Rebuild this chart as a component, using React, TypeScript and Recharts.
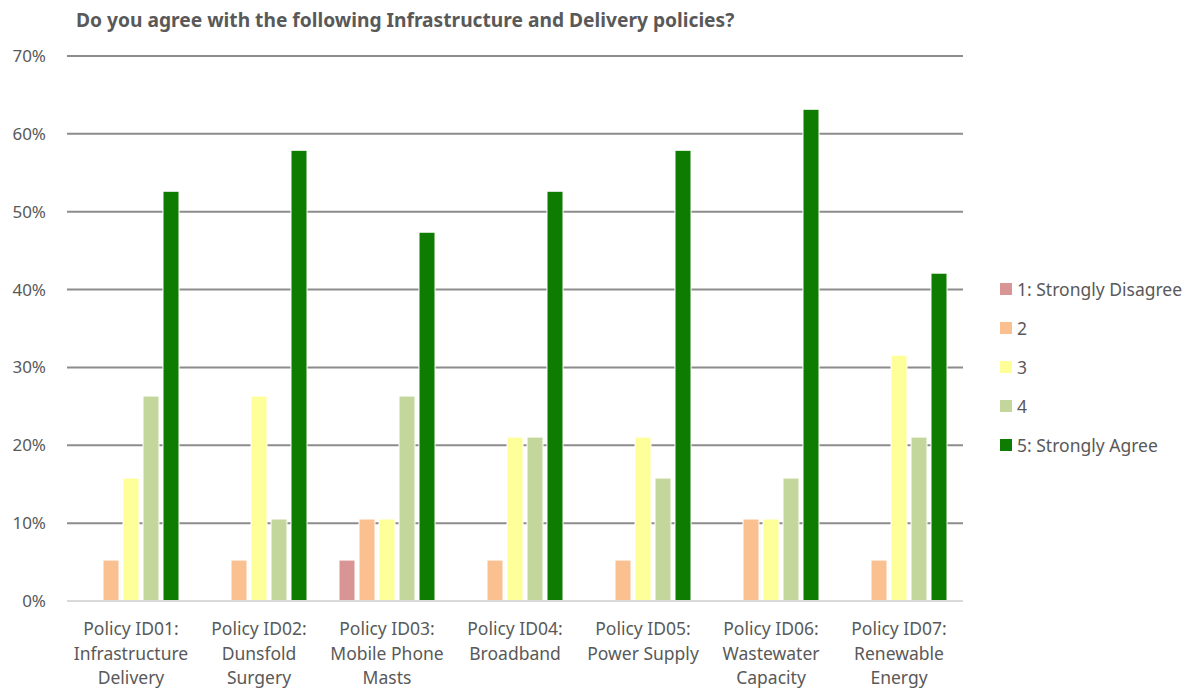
import { BarChart, Bar, XAxis, YAxis, CartesianGrid } from 'recharts';

const policies = [
  'Policy ID01:|Infrastructure|Delivery',
  'Policy ID02:|Dunsfold|Surgery',
  'Policy ID03:|Mobile Phone|Masts',
  'Policy ID04:|Broadband',
  'Policy ID05:|Power Supply',
  'Policy ID06:|Wastewater|Capacity',
  'Policy ID07:|Renewable|Energy',
];

const stronglyDisagree = [0, 0, 5.26, 0, 0, 0, 0];
const disagree = [5.26, 5.26, 10.53, 5.26, 5.26, 10.53, 5.26];
const neutral = [15.79, 26.32, 10.53, 21.05, 21.05, 10.53, 31.58];
const agree = [26.32, 10.53, 26.32, 21.05, 15.79, 15.79, 21.05];
const stronglyAgree = [52.63, 57.89, 47.37, 52.63, 57.89, 63.16, 42.11];

const yTicks = [0, 10, 20, 30, 40, 50, 60, 70];

const series = [
  { key: 's1', name: '1: Strongly Disagree', color: '#d99594', values: stronglyDisagree },
  { key: 's2', name: '2', color: '#fac090', values: disagree },
  { key: 's3', name: '3', color: '#ffff99', values: neutral },
  { key: 's4', name: '4', color: '#c3d69b', values: agree },
  { key: 's5', name: '5: Strongly Agree', color: '#0e7c00', values: stronglyAgree },
];

const data = policies.map((p, i) => {
  const row: Record<string, string | number> = { policy: p };
  series.forEach((s) => (row[s.key] = s.values[i]));
  return row;
});

const FONT = '"Noto Sans", sans-serif';
const TEXT = '#595959';

const PolicyTick = (props: any) => {
  const { x, y, payload } = props;
  const lines = String(payload.value).split('|');
  return (
    <g transform={`translate(${x},${y})`}>
      {lines.map((l, i) => (
        <text key={i} x={0} y={26 + i * 24.5} textAnchor="middle" fill={TEXT} fontSize={17.5} fontFamily={FONT}>
          {l}
        </text>
      ))}
    </g>
  );
};

export default function App() {
  return (
    <div style={{ position: 'absolute', left: 0, top: 0, width: 1195, height: 691, background: '#fff' }}>
      <div
        style={{
          position: 'absolute',
          left: 76,
          top: 6,
          fontFamily: FONT,
          fontWeight: 'bold',
          fontSize: 19.2,
          color: TEXT,
          whiteSpace: 'nowrap',
        }}
      >
        Do you agree with the following Infrastructure and Delivery policies?
      </div>
      <div
        style={{
          position: 'absolute',
          left: 1000,
          top: 269,
          fontFamily: FONT,
          fontSize: 17.5,
          color: TEXT,
          whiteSpace: 'nowrap',
        }}
      >
        {series.map((s) => (
          <div key={s.key} style={{ display: 'flex', alignItems: 'center', height: 39 }}>
            <span style={{ width: 12, height: 12, background: s.color, marginRight: 5, display: 'inline-block' }} />
            <span>{s.name}</span>
          </div>
        ))}
      </div>
      <BarChart
        width={1195}
        height={691}
        data={data}
        margin={{ top: 56, right: 232, bottom: 0, left: 0 }}
        barCategoryGap={16}
        barGap={4}
      >
        <CartesianGrid vertical={false} stroke="#8c8c8c" strokeWidth={2} />
        <XAxis
          dataKey="policy"
          height={90}
          axisLine={{ stroke: '#d9d9d9', strokeWidth: 2 }}
          tickLine={false}
          tick={<PolicyTick />}
          interval={0}
        />
        <YAxis
          width={67}
          domain={[0, 70]}
          ticks={yTicks}
          tickFormatter={(v: number) => `${v}%`}
          axisLine={false}
          tickLine={false}
          tickMargin={15}
          tick={{ fill: TEXT, fontSize: 17, fontFamily: FONT }}
        />
        {series.map((s) => (
          <Bar
            key={s.key}
            dataKey={s.key}
            name={s.name}
            fill={s.color}
            stroke="#fff"
            strokeWidth={1}
            isAnimationActive={false}
          />
        ))}
      </BarChart>
    </div>
  );
}
